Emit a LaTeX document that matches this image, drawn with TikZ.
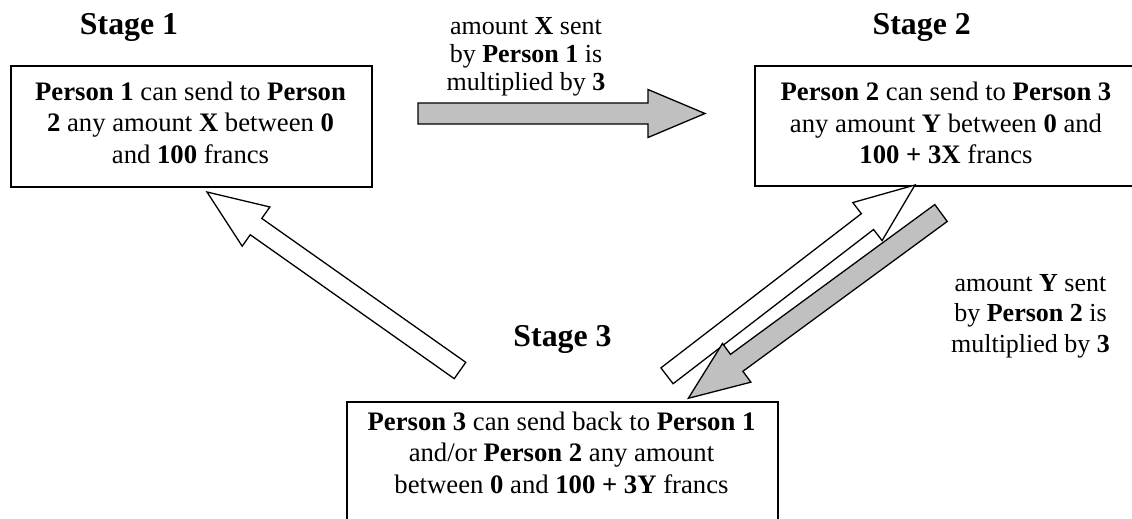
\documentclass[tikz,border=0pt]{standalone}
\usepackage{fontspec}
\setmainfont{Liberation Serif}
\usetikzlibrary{calc}
\definecolor{arrowgray}{RGB}{192,192,192}
\tikzset{
  box/.style={draw=black, line width=1.8pt, fill=white, inner sep=0pt, anchor=north west},
  boxtxt/.style={font=\fontsize{26.7}{31.5}\selectfont, inner sep=0pt, anchor=base},
  stagetxt/.style={font=\fontsize{31.8}{36}\selectfont\bfseries, inner sep=0pt, anchor=base},
  notetxt/.style={font=\fontsize{26}{28}\selectfont, inner sep=0pt, anchor=base},
  hollowarrow/.style={draw=black, fill=white, line width=1.3pt, line join=miter},
  grayarrow/.style={draw=black, fill=arrowgray, line width=1.3pt, line join=miter},
}
% #1 style, #2 tail coordinate, #3 tip coordinate, #4 shaft half width, #5 head half width, #6 head length
\newcommand\drawblockarrow[6]{%
  \coordinate (hb) at ($(#3)!#6!(#2)$);
  \draw[#1] ($(#2)!#4!90:(#3)$) -- ($(hb)!#4!90:(#3)$) -- ($(hb)!#5!90:(#3)$) -- (#3)
    -- ($(hb)!#5!-90:(#3)$) -- ($(hb)!#4!-90:(#3)$) -- ($(#2)!#4!-90:(#3)$) -- cycle;
}
\begin{document}
\begin{tikzpicture}[x=1pt,y=-1pt]
\useasboundingbox (0,0) rectangle (1132,519);
\clip (0,0) rectangle (1132,519);

% stage titles
\node[stagetxt] (s1) at (129,34.5) {Stage 1};
\node[stagetxt] (s2) at (921.7,34.5) {Stage 2};
\node[stagetxt] (s3) at (562.5,346) {Stage 3};

% boxes
\node[box, minimum width=361pt, minimum height=121pt] (box1) at (10,65) {};
\node[box, minimum width=384pt, minimum height=120pt] (box2) at (754,65) {};
\node[box, minimum width=431pt, minimum height=130pt] (box3) at (346,401) {};

% box texts
\node[boxtxt] (b1l1) at (190.5,100) {\textbf{Person 1} can send to \textbf{Person}};
\node[boxtxt] (b1l2) at (190.5,131.5) {\textbf{2} any amount \textbf{X} between \textbf{0}};
\node[boxtxt] (b1l3) at (190.5,163) {and \textbf{100} francs};

\node[boxtxt] (b2l1) at (946,100.5) {\textbf{Person 2} can send to \textbf{Person 3}};
\node[boxtxt] (b2l2) at (946,132) {any amount \textbf{Y} between \textbf{0} and};
\node[boxtxt] (b2l3) at (946,163) {\textbf{100 + 3X} francs};

\node[boxtxt] (b3l1) at (561.5,430) {\textbf{Person 3} can send back to \textbf{Person 1}};
\node[boxtxt] (b3l2) at (561.5,461.5) {and/or \textbf{Person 2} any amount};
\node[boxtxt] (b3l3) at (561.5,493) {between \textbf{0} and \textbf{100 + 3Y} francs};

% notes
\node[notetxt] (n1a) at (526,35) {amount \textbf{X} sent};
\node[notetxt] (n1b) at (526,62.5) {by \textbf{Person 1} is};
\node[notetxt] (n1c) at (526,90) {multiplied by \textbf{3}};

\node[notetxt] (n2a) at (1030.5,291) {amount \textbf{Y} sent};
\node[notetxt] (n2b) at (1030.5,321.5) {by \textbf{Person 2} is};
\node[notetxt] (n2c) at (1030.5,352) {multiplied by \textbf{3}};

% arrow end points
\coordinate (a12tail) at (418,113.5);
\coordinate (a12tip) at (705,113.5);
\coordinate (a31tail) at (460,370.5);
\coordinate (a31tip) at (207,192);
\coordinate (a32tail) at (667,375.8);
\coordinate (a32tip) at (915,185);
\coordinate (a23tail) at (941,213);
\coordinate (a23tip) at (688.3,398.3);

% block arrows
\drawblockarrow{grayarrow}{a12tail}{a12tip}{10.5pt}{24pt}{57pt}
\drawblockarrow{hollowarrow}{a31tail}{a31tip}{10pt}{24pt}{60pt}
\drawblockarrow{hollowarrow}{a32tail}{a32tip}{10pt}{24pt}{60pt}
\drawblockarrow{grayarrow}{a23tail}{a23tip}{10.5pt}{24pt}{60pt}
\end{tikzpicture}
\end{document}
